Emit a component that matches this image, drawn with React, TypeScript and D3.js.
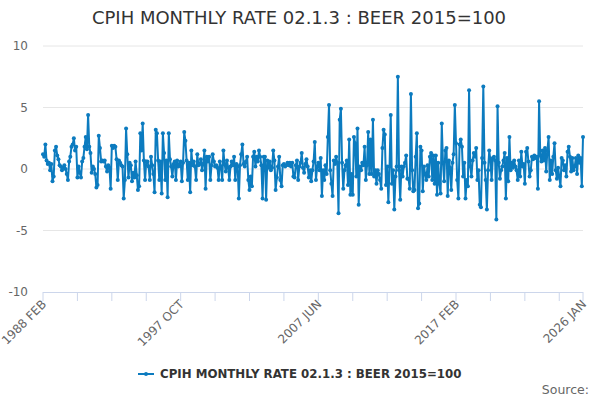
import React from "react";
import * as d3 from "d3";

// Monthly rate values, 1988 FEB .. 2026 JAN (456 months)
const values1988to1992 = [
  1.2, 1.0, 2.0, 0.7, 0.4, 0.5, -0.1, 0.4, -1.0, -0.6,
  1.5, 1.8, 1.1, 0.8, 0.3, 0.2, -0.1, 0.1, 0.3, 0.0,
  -0.4, -0.9, 0.6, 1.0, 1.8, 2.0, 2.5, 1.5, 1.8, -0.7,
  0.2, -0.3, -0.7, 0.6, 0.9, 1.8, 2.6, 1.6, 4.4, 1.8,
  1.3, -0.3, 0.2, 0.0, -0.4, -1.5, -1.3, 2.7, 1.7, 0.6,
  0.7, 0.6, 0.7, 0.2, -0.2,
];
const values1992to1997 = [
  0.3, 0.1, -1.6, 1.9, 1.7, 1.9, 1.8, 0.8, -0.9, 0.7,
  0.5, 0.3, 0.2, -2.4, -0.9, 3.3, 1.2, -0.7, 0.5, 0.3,
  -1.0, -0.3, -0.7, 0.6, -0.5, -1.7, -1.4, 2.9, 1.5, 3.7,
  0.7, -0.9, 0.6, 0.6, 0.2, -0.9, 1.0, 0.3, -0.4, -1.9,
  3.2, 2.9, 0.7, -0.9, 0.6, -2.0, 2.9, 1.3, -0.9, 0.7,
  -2.3, 2.9, 0.8, 0.2, -0.6, 0.4, 0.6, -0.9,
];
const values1997to2002 = [
  0.7, 0.2, 0.4, 0.6, -1.0, 0.5, 3.0, 2.3, 0.7, -0.9,
  0.5, -1.9, 1.5, 0.3, 0.6, 0.2, -0.9, 1.2, 0.3, 0.4,
  0.8, -0.1, 0.4, 1.5, -1.6, 1.0, 0.6, 1.0, -0.9, 0.3,
  1.2, 0.6, 0.2, 0.3, 0.1, -0.9, 0.6, 0.2, -0.9, 1.5,
  0.4, -0.2, 0.7, 0.1, -0.9, 0.2, 0.6, 0.3, 1.0, -0.9,
  0.4, 0.2, -2.4, 0.3, 1.2, 2.0, 0.4,
];
const values2002to2007 = [
  0.2, 0.6, 1.0, -0.9, -1.7, -0.6, -1.4, 1.0, 1.4, 0.2,
  1.0, 0.6, 1.5, 1.0, 0.3, -2.4, 1.0, 1.0, -2.5, 0.7,
  0.1, 0.6, -0.1, 0.1, 1.5, 0.7, -1.7, -0.7, 0.2, 1.0,
  -0.9, -1.4, 0.3, 0.4, 0.2, 0.3, 0.5, 0.3, 0.5, 0.2,
  0.5, -0.6, -0.7, 0.3, 0.7, -0.9, 0.2, 0.5, 1.3, 0.1,
  -0.3, 0.4, 0.8, 0.2, -0.7, -0.1, -1.0,
];
const values2007to2011 = [
  -0.1, 0.6, 2.2, -0.9, 0.2, 0.5, -0.1, 0.9, -2.2, -0.1,
  -0.9, 0.3, -0.4, 2.6, 5.2, -0.1, -1.2, -2.2, 0.7, 0.4,
  1.0, 0.5, -3.6, 4.0, 4.9, 0.5, -1.6, -0.1, 0.3, 0.7,
  -1.3, 2.4, -2.1, -0.4, -2.1, 2.6, 2.1, -0.6, 3.3, -2.9,
  0.2, -0.1, 0.5, 0.3, 1.8, -0.9, 0.3, 3.0, -0.4, 2.4,
  -0.4, 4.0, -0.6, -0.1, -1.2, -0.1, -0.4,
];
const values2011to2016 = [
  -0.9, -1.6, 1.7, 3.2, 2.8, -1.3, 0.2, -2.7, 0.2, 4.4,
  -1.2, -0.1, -3.3, -0.6, 0.2, 7.5, -0.1, -2.5, 0.2, -0.6,
  0.2, 0.5, 1.1, -0.8, -0.8, -1.6, 6.1, -0.1, -1.8, -1.7,
  1.0, 2.9, -3.2, -2.8, 1.8, 1.5, -1.8, 0.2, -0.4, -0.9,
  0.3, -0.6, 1.0, 1.3, -0.9, 1.1, -1.2, 1.1, -2.1, 0.5,
  -1.2, -2.0, 3.7, 0.5, -1.0, 1.5, 1.7, -2.2,
];
const values2016to2021 = [
  0.7, 0.1, -1.7, 0.5, 1.2, 5.2, 2.1, -0.9, -2.4, 2.0,
  2.4, 1.8, -0.6, 0.5, -2.4, -0.9, -1.4, 6.4, 0.2, -0.6,
  0.7, 1.3, 1.0, 1.7, -0.9, -0.1, -2.9, -3.1, 0.9, 6.7,
  0.5, -0.9, -3.3, -0.1, 1.5, 0.7, -0.9, 0.9, 1.0, 0.7,
  -4.1, 5.1, 0.5, -0.8, -0.1, 0.2, 0.7, 1.3, -2.4, 0.9,
  -1.0, 2.6, -0.1, 0.5, 0.1, 0.7, 0.2,
];
const values2021to2026 = [
  -0.1, -0.9, 0.7, -0.6, 1.4, 0.2, 0.4, -1.2, 1.4, 1.7,
  0.6, -0.6, -0.1, 1.0, 0.8, 1.1, 0.9, 1.0, -1.6, 5.5,
  1.1, 0.6, 1.5, 0.7, 1.7, -0.2, 1.5, 2.6, -0.9, 0.7,
  -0.4, 1.0, 2.1, -0.1, -0.8, 0.1, -0.6, -1.4, 0.9, 0.7,
  -0.1, 0.3, -0.6, 1.4, 1.8, 1.0, -0.2, 0.9, -0.1, 0.2,
  0.9, -0.4, 1.1, 0.5, 0.9, -1.4, 2.6,
];

const seriesValues = [
  ...values1988to1992,
  ...values1992to1997,
  ...values1997to2002,
  ...values2002to2007,
  ...values2007to2011,
  ...values2011to2016,
  ...values2016to2021,
  ...values2021to2026,
];

const monthNames = ["JAN", "FEB", "MAR", "APR", "MAY", "JUN", "JUL", "AUG", "SEP", "OCT", "NOV", "DEC"];
const startYear = 1988;
const startMonth = 1; // FEB
const categories = seriesValues.map((_, i) => {
  const m = startMonth + i;
  return `${startYear + Math.floor(m / 12)} ${monthNames[m % 12]}`;
});

const yTicks = [-10, -5, 0, 5, 10];
const xTickLabels = ["1988 FEB", "1997 OCT", "2007 JUN", "2017 FEB", "2026 JAN"];
const xTickStep = 29;

const titleText = "CPIH MONTHLY RATE 02.1.3 : BEER 2015=100";
const seriesName = "CPIH MONTHLY RATE 02.1.3 : BEER 2015=100";
const creditText = "Source:";

const W = 600;
const H = 400;
const plotLeft = 43;
const plotRight = 583;
const plotTop = 46;
const plotBottom = 292;
const FONT = "'DejaVu Sans', Verdana, sans-serif";
const LINE_COLOR = "#0c7bbf";

export default function App() {
  const n = seriesValues.length;
  const x = d3.scaleLinear().domain([0, n - 1]).range([plotLeft, plotRight]);
  const y = d3.scaleLinear().domain([-10, 10]).range([plotBottom, plotTop]);

  const line = d3
    .line<number>()
    .x((_, i) => x(i))
    .y((d) => y(d));

  const tickIdx: number[] = [];
  for (let i = 0; i < n; i += xTickStep) tickIdx.push(i);
  if (tickIdx[tickIdx.length - 1] !== n - 1) tickIdx.push(n - 1);

  const labelIdx = xTickLabels.map((l) => categories.indexOf(l));

  return (
    <svg
      width={W}
      height={H}
      style={{ position: "absolute", left: 0, top: 0, background: "#fff" }}
      fontFamily={FONT}
    >
      <rect x={0} y={0} width={W} height={H} fill="#fff" />
      <text x={W / 2 - 1} y={24} textAnchor="middle" fontSize={18} fill="#333">
        {titleText}
      </text>

      {yTicks.map((t) => (
        <g key={t}>
          {t !== -10 && (
            <line x1={plotLeft} x2={plotRight} y1={y(t)} y2={y(t)} stroke="#e6e6e6" strokeWidth={1} />
          )}
          <text x={28} y={y(t) + 4} textAnchor="end" fontSize={12} fill="#666">
            {t}
          </text>
        </g>
      ))}

      <line x1={plotLeft} x2={plotRight} y1={plotBottom + 0.5} y2={plotBottom + 0.5} stroke="#ccd6eb" strokeWidth={1} />
      {tickIdx.map((i) => (
        <line
          key={i}
          x1={x(i)}
          x2={x(i)}
          y1={plotBottom}
          y2={plotBottom + 9}
          stroke="#ccd6eb"
          strokeWidth={1}
        />
      ))}
      {labelIdx.map((i, k) => (
        <text
          key={k}
          transform={`translate(${x(i) + 4},${plotBottom + 13}) rotate(-45)`}
          textAnchor="end"
          fontSize={12}
          fill="#666"
        >
          {categories[i]}
        </text>
      ))}

      <path d={line(seriesValues) || ""} fill="none" stroke={LINE_COLOR} strokeWidth={2} strokeLinejoin="round" />
      {seriesValues.map((v, i) => (
        <circle key={i} cx={x(i)} cy={y(v)} r={2} fill={LINE_COLOR} />
      ))}

      <g>
        <line x1={138} x2={154} y1={374} y2={374} stroke={LINE_COLOR} strokeWidth={2} />
        <circle cx={146} cy={374} r={2} fill={LINE_COLOR} />
        <text x={160} y={378} fontSize={11.8} fontWeight="bold" fill="#333">
          {seriesName}
        </text>
      </g>

      <text x={589} y={394} textAnchor="end" fontSize={12.5} fill="#666">
        {creditText}
      </text>
    </svg>
  );
}
